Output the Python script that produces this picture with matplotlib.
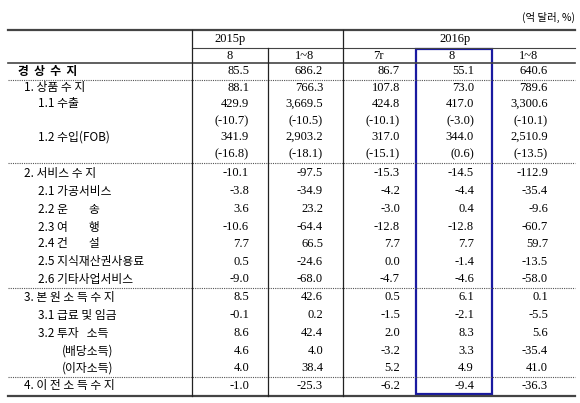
import matplotlib.pyplot as plt

# 경상수지 표 (억 달러, %)
labels = ['경  상  수  지', '1. 상품 수 지', '1.1 수출', '', '1.2 수입(FOB)', '',
          '2. 서비스 수 지', '2.1 가공서비스', '2.2 운        송', '2.3 여        행',
          '2.4 건        설', '2.5 지식재산권사용료', '2.6 기타사업서비스',
          '3. 본 원 소 득 수 지', '3.1 급료 및 임금', '3.2 투자   소득',
          '(배당소득)', '(이자소득)', '4. 이 전 소 득 수 지']
indent = [18, 24, 38, 38, 38, 38, 24, 38, 38, 38, 38, 38, 38, 24, 38, 38, 62, 62, 24]
y2015_8 = ['85.5', '88.1', '429.9', '(-10.7)', '341.9', '(-16.8)', '-10.1', '-3.8', '3.6', '-10.6',
           '7.7', '0.5', '-9.0', '8.5', '-0.1', '8.6', '4.6', '4.0', '-1.0']
y2015_18 = ['686.2', '766.3', '3,669.5', '(-10.5)', '2,903.2', '(-18.1)', '-97.5', '-34.9', '23.2',
            '-64.4', '66.5', '-24.6', '-68.0', '42.6', '0.2', '42.4', '4.0', '38.4', '-25.3']
y2016_7 = ['86.7', '107.8', '424.8', '(-10.1)', '317.0', '(-15.1)', '-15.3', '-4.2', '-3.0', '-12.8',
           '7.7', '0.0', '-4.7', '0.5', '-1.5', '2.0', '-3.2', '5.2', '-6.2']
y2016_8 = ['55.1', '73.0', '417.0', '(-3.0)', '344.0', '(0.6)', '-14.5', '-4.4', '0.4', '-12.8',
           '7.7', '-1.4', '-4.6', '6.1', '-2.1', '8.3', '3.3', '4.9', '-9.4']
y2016_18 = ['640.6', '789.6', '3,300.6', '(-10.1)', '2,510.9', '(-13.5)', '-112.9', '-35.4', '-9.6',
            '-60.7', '59.7', '-13.5', '-58.0', '0.1', '-5.5', '5.6', '-35.4', '41.0', '-36.3']
sub_headers = ['8', '1~8', '7r', '8', '1~8']
row_y = [71, 88, 104, 121, 137, 154, 173, 191, 209, 227, 244, 262, 279, 297, 315, 333, 351, 368, 386]

W, H = 580, 403
fig = plt.figure(figsize=(5.8, 4.03), dpi=100)
ax = fig.add_axes([0, 0, 1, 1])
ax.set_xlim(0, W)
ax.set_ylim(H, 0)
ax.axis('off')

kr = ['Noto Sans CJK KR', 'DejaVu Sans']
num = 'Liberation Serif'
col_right = [249, 323, 400, 474, 548]
col_center = [230, 305, 378, 452, 529]
vlines = [192, 343]

ax.text(575, 17, '(억 달러, %)', ha='right', va='center', fontsize=7.5, family=kr)

# rules
ax.plot([8, 575], [30, 30], color='#444', lw=1.6)
ax.plot([192, 575], [48, 48], color='#444', lw=0.8)
ax.plot([8, 575], [63, 63], color='#444', lw=1.2)
for yy in [80, 163, 288, 377]:
    ax.plot([8, 575], [yy, yy], color='#555', lw=0.8, ls=(0, (1, 1)))
ax.plot([8, 575], [396, 396], color='#444', lw=1.6)
for x in vlines:
    ax.plot([x, x], [30, 396], color='#222', lw=0.9)
ax.plot([268, 268], [48, 396], color='#222', lw=0.9)
ax.add_patch(plt.Rectangle((416, 49), 76, 345, fill=False, ec='#1a1aa0', lw=1.6))

ax.text(230, 39, '2015p', ha='center', va='center', fontsize=9, family=num)
ax.text(455, 39, '2016p', ha='center', va='center', fontsize=9, family=num)
for x, s in zip(col_center, sub_headers):
    ax.text(x, 56, s, ha='center', va='center', fontsize=9, family=num)

cols = [y2015_8, y2015_18, y2016_7, y2016_8, y2016_18]
for i, y in enumerate(row_y):
    bold = i == 0
    ax.text(indent[i], y, labels[i], ha='left', va='center', fontsize=8.5,
            family=kr, weight='bold' if bold else 'normal')
    for x, c in zip(col_right, cols):
        ax.text(x, y, c[i], ha='right', va='center', fontsize=9, family=num)

fig.savefig('out.png', dpi=100)
